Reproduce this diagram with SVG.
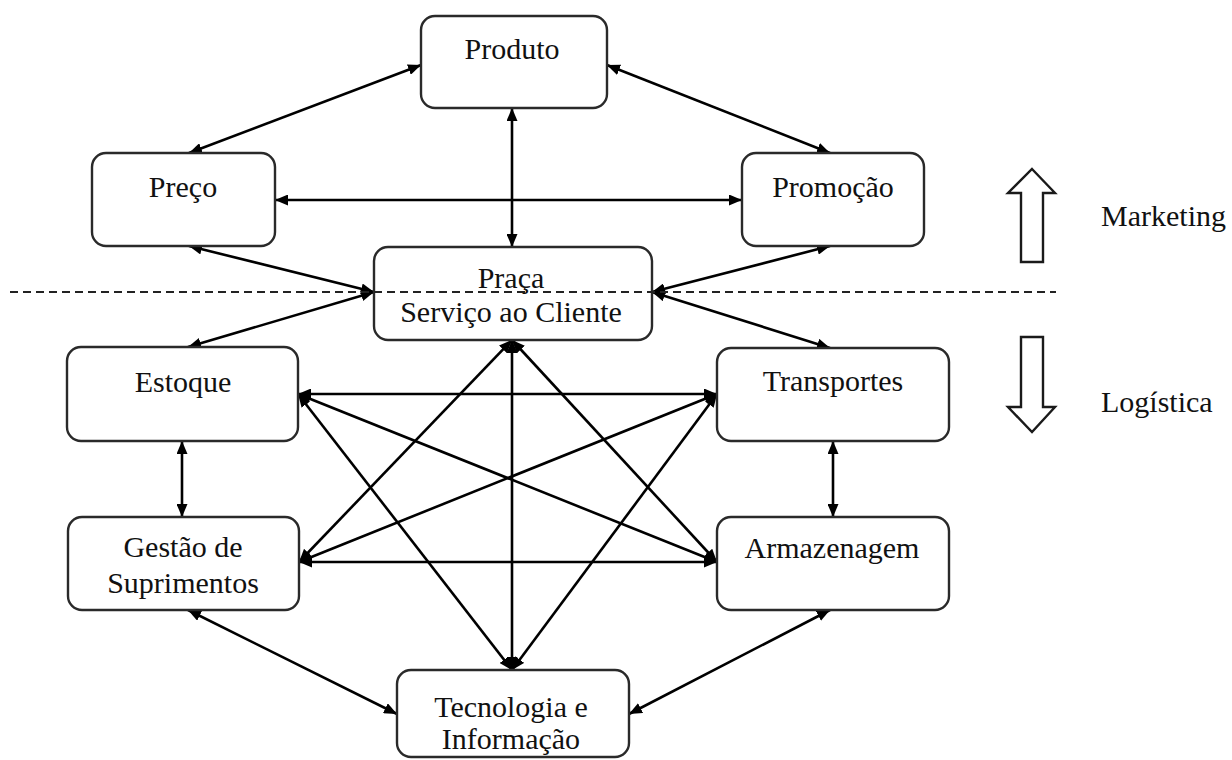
<svg xmlns="http://www.w3.org/2000/svg" width="1232" height="760" viewBox="0 0 1232 760">
  <style>
    .box { fill: #ffffff; stroke: #2a2a2a; stroke-width: 2.4; }
    .lbl { font-family: 'Liberation Serif', 'DejaVu Serif', serif; font-size: 30px; fill: #111111; text-anchor: middle; }
    .side { font-family: 'Liberation Serif', 'DejaVu Serif', serif; font-size: 30px; fill: #111111; }
    .con { stroke: #000000; stroke-width: 2.6; fill: none; marker-start: url(#ah); marker-end: url(#ah); }
    .dash { stroke: #222222; stroke-width: 1.8; stroke-dasharray: 8 5; fill: none; }
    .hollow { fill: #ffffff; stroke: #1a1a1a; stroke-width: 2.4; stroke-linejoin: miter; }
  </style>
  <defs>
    <marker id="ah" markerUnits="userSpaceOnUse" markerWidth="13" markerHeight="11" refX="13" refY="5.5" orient="auto-start-reverse">
      <path d="M0,0 L13,5.5 L0,11 z" fill="#000000"/>
    </marker>
  </defs>
  <rect width="1232" height="760" fill="#ffffff"/>

  <g id="connectors">
    <line class="con" x1="421" y1="65" x2="189" y2="153"/>
    <line class="con" x1="607" y1="65" x2="830" y2="153"/>
    <line class="con" x1="512" y1="108" x2="512" y2="247"/>
    <line class="con" x1="275" y1="200" x2="742" y2="200"/>
    <line class="con" x1="189" y1="246" x2="374" y2="292"/>
    <line class="con" x1="374" y1="292" x2="188" y2="347"/>
    <line class="con" x1="830" y1="246" x2="652" y2="292"/>
    <line class="con" x1="652" y1="292" x2="830" y2="348"/>
    <line class="con" x1="182" y1="441" x2="182" y2="517"/>
    <line class="con" x1="833" y1="441" x2="833" y2="517"/>
    <line class="con" x1="188" y1="610" x2="397" y2="714"/>
    <line class="con" x1="830" y1="610" x2="629" y2="714"/>
    <line class="con" x1="298" y1="394" x2="717" y2="394"/>
    <line class="con" x1="299" y1="562" x2="717" y2="562"/>
    <line class="con" x1="512" y1="340" x2="512" y2="670"/>
    <line class="con" x1="512" y1="340" x2="299" y2="562"/>
    <line class="con" x1="512" y1="340" x2="717" y2="562"/>
    <line class="con" x1="512" y1="670" x2="298" y2="394"/>
    <line class="con" x1="512" y1="670" x2="717" y2="394"/>
    <line class="con" x1="298" y1="394" x2="717" y2="562"/>
    <line class="con" x1="717" y1="394" x2="299" y2="562"/>
  </g>

  <g id="produto">
    <rect class="box" x="421" y="16" width="186" height="92" rx="14"/>
    <text class="lbl" x="512" y="59">Produto</text>
  </g>
  <g id="preco">
    <rect class="box" x="92" y="153" width="183" height="93" rx="14"/>
    <text class="lbl" x="183" y="197">Preço</text>
  </g>
  <g id="promocao">
    <rect class="box" x="742" y="153" width="182" height="93" rx="14"/>
    <text class="lbl" x="833" y="197">Promoção</text>
  </g>
  <g id="praca">
    <rect class="box" x="374" y="247" width="278" height="93" rx="14"/>
    <text class="lbl" x="511" y="288">Praça</text>
    <text class="lbl" x="511" y="322">Serviço ao Cliente</text>
  </g>
  <g id="estoque">
    <rect class="box" x="67" y="347" width="231" height="94" rx="14"/>
    <text class="lbl" x="183" y="392">Estoque</text>
  </g>
  <g id="transportes">
    <rect class="box" x="717" y="348" width="232" height="93" rx="14"/>
    <text class="lbl" x="833" y="391">Transportes</text>
  </g>
  <g id="gestao">
    <rect class="box" x="68" y="517" width="231" height="93" rx="14"/>
    <text class="lbl" x="183" y="557">Gestão de</text>
    <text class="lbl" x="183" y="593">Suprimentos</text>
  </g>
  <g id="armazenagem">
    <rect class="box" x="717" y="517" width="232" height="93" rx="14"/>
    <text class="lbl" x="832" y="558">Armazenagem</text>
  </g>
  <g id="tecnologia">
    <rect class="box" x="397" y="670" width="232" height="87" rx="14"/>
    <text class="lbl" x="511" y="717">Tecnologia e</text>
    <text class="lbl" x="511" y="749">Informação</text>
  </g>

  <line class="dash" x1="10" y1="292" x2="1056" y2="292"/>

  <g id="marketing">
    <path class="hollow" d="M1032,169 L1055,193 L1043,193 L1043,262 L1021,262 L1021,193 L1008,193 Z"/>
    <text class="side" x="1101" y="226">Marketing</text>
  </g>
  <g id="logistica">
    <path class="hollow" d="M1021,337 L1043,337 L1043,407 L1055,407 L1032,432 L1008,407 L1021,407 Z"/>
    <text class="side" x="1101" y="412">Logística</text>
  </g>
</svg>
